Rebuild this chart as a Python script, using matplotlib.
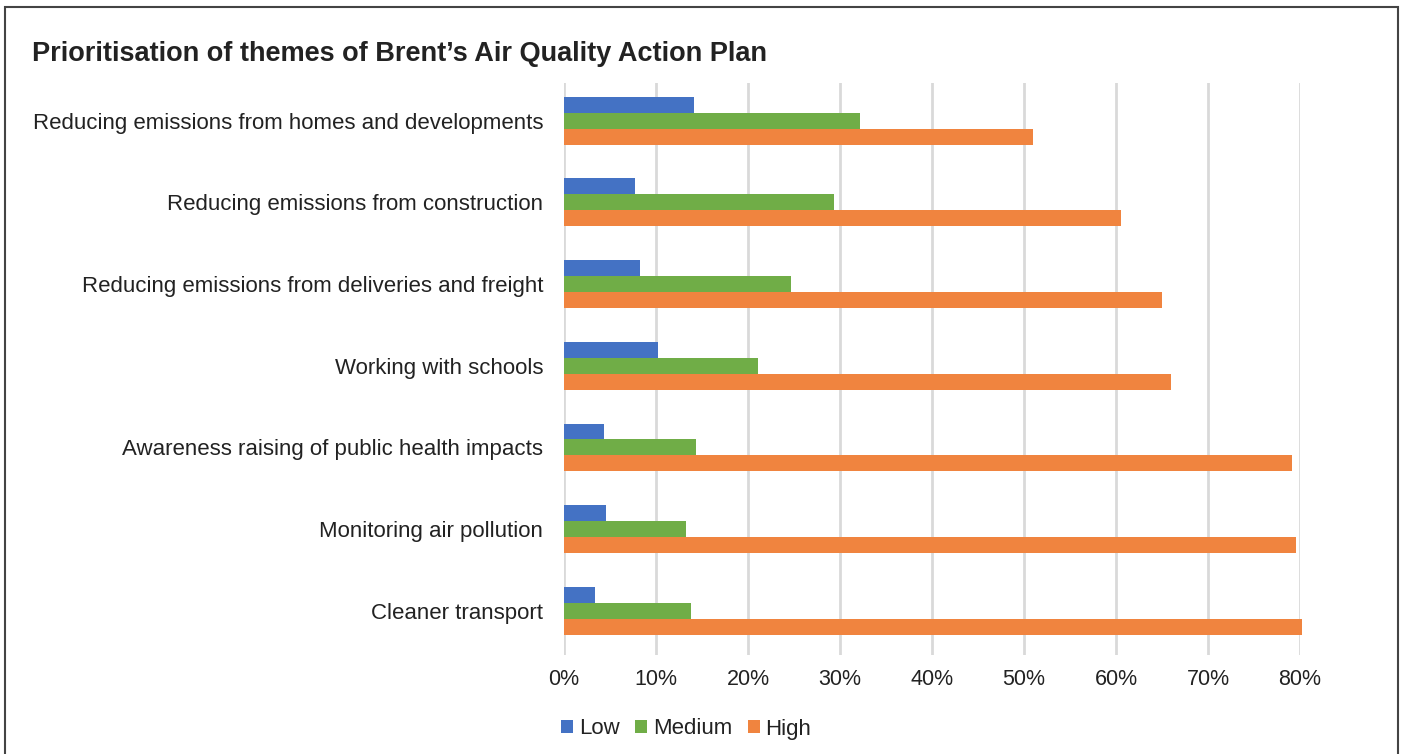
import matplotlib.pyplot as plt
import numpy as np
from matplotlib.patches import Rectangle

plt.rcParams['font.family'] = ['Liberation Sans', 'DejaVu Sans']

# Data
themes = [
    "Reducing emissions from homes and developments",
    "Reducing emissions from construction",
    "Reducing emissions from deliveries and freight",
    "Working with schools",
    "Awareness raising of public health impacts",
    "Monitoring air pollution",
    "Cleaner transport",
]
low = [0.141, 0.077, 0.083, 0.102, 0.044, 0.046, 0.034]
medium = [0.322, 0.293, 0.247, 0.211, 0.143, 0.133, 0.138]
high = [0.510, 0.606, 0.650, 0.660, 0.791, 0.796, 0.802]
series_names = ["Low", "Medium", "High"]
colors = ["#4472C4", "#70AD47", "#F0843F"]
xticks = [0, 0.1, 0.2, 0.3, 0.4, 0.5, 0.6, 0.7, 0.8]

fig = plt.figure(figsize=(14.02, 7.54), dpi=100)
ax = fig.add_axes([0.4023, 0.1313, 0.5249, 0.7586])

y = np.arange(len(themes))[::-1].astype(float)
h = 0.195
for i, (vals, name, c) in enumerate(zip([low, medium, high], series_names, colors)):
    ax.barh(y + (1 - i) * h, vals, height=h, color=c, label=name,
            zorder=3, clip_on=False)

ax.set_xlim(0, 0.8)
ax.set_ylim(-0.54, 6.46)
ax.set_xticks(xticks)
ax.set_xticklabels([f"{int(round(t * 100))}%" for t in xticks], fontsize=15.5, color="#222222")
ax.set_yticks(y)
ax.set_yticklabels(themes, fontsize=16, color="#222222")
ax.tick_params(axis="both", length=0)
ax.tick_params(axis="x", pad=10)
ax.tick_params(axis="y", pad=15)
ax.grid(axis="x", color="#D9D9D9", linewidth=2, zorder=0)
for s in ax.spines.values():
    s.set_visible(False)

fig.text(32 / 1402, 1 - 54 / 754, "Prioritisation of themes of Brent\u2019s Air Quality Action Plan",
         fontsize=19.5, fontweight="bold", color="#222222", va="center", ha="left")

leg = fig.legend(loc="center left", bbox_to_anchor=(541 / 1402, 1 - 729 / 754), ncol=3,
                 frameon=False, fontsize=16, handlelength=0.55, handleheight=0.55,
                 handletextpad=0.25, columnspacing=0.7)
for t in leg.get_texts():
    t.set_color("#222222")

fig.patches.append(Rectangle((5 / 1402, -0.01), 1393 / 1402, 1 - 7 / 754 + 0.01,
                             transform=fig.transFigure, fill=False,
                             edgecolor="#444444", linewidth=1.5))

fig.savefig("out.png", dpi=100)
